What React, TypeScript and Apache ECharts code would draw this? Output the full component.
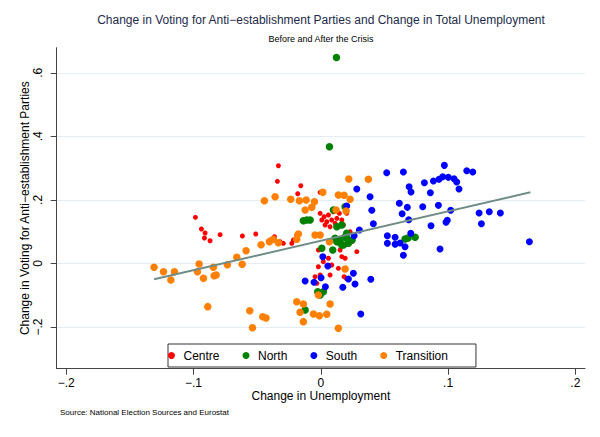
import React, { useEffect, useRef } from 'react';
import * as echarts from 'echarts';

const FONT = '"Liberation Sans", Arial, Helvetica, sans-serif';

const categories = ['Centre', 'North', 'South', 'Transition'];
const colors = ['#ff0000', '#008000', '#0000ff', '#ff8000'];
const markerSizes = [5, 7.5, 7, 7.5];

const xTicks = [-0.2, -0.1, 0, 0.1, 0.2];
const yTicks = [-0.2, 0, 0.2, 0.4, 0.6];

const centre: number[][] = [
  [-0.0333, 0.3075], [-0.0341, 0.2585], [-0.0157, 0.2447], [-0.0181, 0.2195], [-0.0005, 0.2239],
  [-0.0005, 0.1579], [0.0026, 0.1472], [0.006, 0.1525], [0.0008, 0.1368], [0.0047, 0.1314],
  [0.0086, 0.1368], [0.0034, 0.1211], [0.0126, 0.1421], [0.0165, 0.1368], [0.0178, 0.1211],
  [0.0099, 0.1629], [0.0146, 0.1579], [-0.0398, 0.0739], [-0.032, 0.0686], [-0.0294, 0.0635],
  [-0.0215, 0.0739], [-0.0189, 0.0896], [-0.0228, 0.0635], [0.0165, 0.0214], [0.0191, 0.0164],
  [0.0283, 0.0371], [0.0244, 0.0686], [-0.0019, 0.0425], [0.002, 0.0057], [0.006, 0.0164],
  [0.0086, -0.0047], [0.0138, -0.0151], [-0.0019, -0.0101], [-0.0045, -0.0415], [-0.0005, -0.0362],
  [0.0073, -0.0362], [-0.0031, -0.0623], [0.0183, -0.0415], [0.0199, -0.0465], [0.0152, 0.0425],
  [-0.0985, 0.1453], [-0.0938, 0.1085], [-0.0909, 0.0959], [-0.0914, 0.0802], [-0.087, 0.0717],
  [-0.0791, 0.0906], [-0.0616, 0.0865], [-0.0511, 0.0928], [-0.0364, 0.0843], [0.0113, 0.1264],
  [0.0073, 0.1157], [0.0204, 0.1579], [0.023, 0.1],
];

const north: number[][] = [
  [0.0123, 0.6484], [0.0068, 0.3673], [-0.011, 0.1368], [-0.0084, 0.1368], [-0.0137, 0.1346],
  [0.0099, 0.1682], [0.0126, 0.1157], [0.0165, 0.1211], [0.0191, 0.1786], [0.0112, 0.0792],
  [0.0152, 0.0739], [0.0191, 0.0843], [0.0217, 0.0635], [0.0165, 0.0582], [0.0126, 0.0686],
  [0.0204, 0.095], [0.0094, 0.0425], [0.0008, 0.0478], [0.0138, 0.0686], [0.0204, 0.0792],
  [0.0178, 0.0582], [0.0246, 0.0739], [-0.0024, -0.0887], [-0.0005, -0.0991], [0.002, -0.0887],
  [-0.0123, -0.1462], [0.0662, 0.077], [0.0741, 0.0824], [0.0686, 0.0802],
];

const south: number[][] = [
  [0.0518, 0.2855], [0.0649, 0.2877], [0.0971, 0.3088], [0.1147, 0.2918], [0.1194, 0.2877],
  [0.0814, 0.2541], [0.0885, 0.2594], [0.0929, 0.2648], [0.0958, 0.273], [0.1002, 0.2711],
  [0.1047, 0.2667], [0.1068, 0.2563], [0.1086, 0.2343], [0.0694, 0.2415], [0.0709, 0.2248],
  [0.0861, 0.2226], [0.0617, 0.1893], [0.068, 0.1767], [0.0639, 0.1566], [0.0691, 0.1377],
  [0.0801, 0.1786], [0.0924, 0.183], [0.1021, 0.1673], [0.0994, 0.1358], [0.0984, 0.1296],
  [0.0866, 0.1189], [0.1244, 0.1588], [0.1324, 0.1629], [0.1411, 0.1588], [0.1262, 0.1252],
  [0.1639, 0.0686], [0.0707, 0.095], [0.0523, 0.0874], [0.0584, 0.0824], [0.0523, 0.0635],
  [0.0584, 0.0604], [0.0623, 0.0645], [0.0662, 0.0528], [0.0649, 0.0258], [0.0937, 0.0456],
  [0.0401, 0.1673], [0.0413, 0.1252], [0.0387, 0.2101], [0.0393, -0.0497], [0.0283, 0.2343],
  [0.0204, 0.1808], [0.0303, 0.1053], [0.0262, 0.0874], [0.0016, 0.0214], [0.0055, -0.0079],
  [-0.0123, -0.055], [-0.0053, -0.0591], [0.0002, -0.0447], [0.0036, -0.073], [0.0173, -0.0748],
  [0.0217, -0.0487], [0.0256, -0.0308], [0.0269, -0.0645], [0.0314, -0.1588],
];

const transition: number[][] = [
  [-0.0359, 0.2101], [-0.0236, 0.2019], [-0.0168, 0.1975], [-0.0115, 0.1997], [-0.005, 0.1943],
  [0.0016, 0.2239], [-0.0123, 0.1682], [-0.0071, 0.1767], [0.0138, 0.2154], [0.0183, 0.2145],
  [0.023, 0.2019], [0.022, 0.2657], [0.0199, 0.1651], [0.012, 0.1682], [-0.0045, 0.0896],
  [-0.0005, 0.0896], [-0.0176, 0.0928], [-0.0189, 0.0761], [-0.0372, 0.0761], [0.0068, 0.0686],
  [0.0191, -0.0173], [-0.0019, -0.0991], [-0.0189, -0.1201], [-0.0137, -0.1274], [-0.0163, -0.1535],
  [-0.0137, -0.183], [-0.0058, -0.1588], [-0.0011, -0.1642], [0.0047, -0.1597], [0.0073, -0.1274],
  [0.0138, -0.2038], [0.0374, 0.2648], [-0.0443, 0.1975], [-0.131, -0.012], [-0.1236, -0.0258],
  [-0.115, -0.0258], [-0.1178, -0.0519], [-0.0956, -0.0016], [-0.0969, -0.0258], [-0.0922, -0.0465],
  [-0.0844, -0.012], [-0.0838, -0.0384], [-0.0822, -0.0362], [-0.0734, -0.0038], [-0.066, 0.0195],
  [-0.0618, -0.0025], [-0.0587, 0.0403], [-0.0469, 0.0591], [-0.0404, 0.0686], [-0.0333, 0.0654],
  [-0.0888, -0.1358], [-0.0558, -0.1484], [-0.0537, -0.2019], [-0.0456, -0.1673], [-0.043, -0.1714],
];

const fitLine: number[][] = [[-0.131, -0.0497], [0.1647, 0.2239]];

const seriesData = [centre, north, south, transition];

const fmt = (v: number) => {
  if (Math.abs(v) < 1e-9) return '0';
  const s = Math.abs(v).toFixed(1).replace(/^0/, '');
  return (v < 0 ? '\u2212' : '') + s;
};

export default function App() {
  const ref = useRef<HTMLDivElement>(null);
  useEffect(() => {
    if (!ref.current) return;
    const chart = echarts.init(ref.current, undefined, { renderer: 'svg' });
    const axisColor = '#444';
    chart.setOption({
      animation: false,
      backgroundColor: '#ffffff',
      textStyle: { fontFamily: FONT },
      title: [
        {
          text: 'Change in Voting for Anti\u2212establishment Parties and Change in Total Unemployment',
          left: 321,
          top: 14,
          textAlign: 'center',
          padding: 0,
          textStyle: { fontSize: 12, fontWeight: 'normal', color: '#1c2a4a', fontFamily: FONT },
        },
        {
          text: 'Before and After the Crisis',
          left: 321,
          top: 34.5,
          textAlign: 'center',
          padding: 0,
          textStyle: { fontSize: 9, fontWeight: 'normal', color: '#000', fontFamily: FONT },
        },
        {
          text: 'Source: National Election Sources and Eurostat',
          left: 60,
          top: 408,
          padding: 0,
          textStyle: { fontSize: 8, fontWeight: 'normal', color: '#000', fontFamily: FONT },
        },
      ],
      grid: {
        left: 56.7,
        top: 47.7,
        right: 15,
        bottom: 68.3,
        containLabel: false,
        outerBoundsMode: 'none',
      },
      legend: {
        data: categories,
        left: 168,
        top: 344,
        orient: 'horizontal',
        icon: 'circle',
        itemWidth: 14,
        itemHeight: 7,
        itemGap: 23,
        padding: [5.5, 28, 5.5, 0],
        borderColor: '#333',
        borderWidth: 1,
        backgroundColor: '#fff',
        selectedMode: false,
        textStyle: { fontSize: 12, color: '#000', fontFamily: FONT },
      },
      xAxis: {
        type: 'value',
        min: -0.2075,
        max: 0.2076,
        name: 'Change in Unemployment',
        nameLocation: 'middle',
        nameGap: 21,
        nameMoveOverlap: false,
        nameTextStyle: { fontSize: 12, color: '#000', fontFamily: FONT },
        axisLine: { show: true, onZero: false, lineStyle: { color: axisColor, width: 1 } },
        axisTick: { show: true, inside: false, length: 6, customValues: xTicks, lineStyle: { color: axisColor } },
        axisLabel: { customValues: xTicks, formatter: fmt, margin: 8, fontSize: 12, color: '#000', fontFamily: FONT },
        splitLine: { show: false },
      },
      yAxis: {
        type: 'value',
        min: -0.331,
        max: 0.679,
        name: 'Change in Voting for Anti\u2212establishment Parties',
        nameLocation: 'middle',
        nameGap: 26,
        nameMoveOverlap: false,
        nameTextStyle: { fontSize: 12, color: '#000', fontFamily: FONT },
        axisLine: { show: true, onZero: false, lineStyle: { color: axisColor, width: 1 } },
        axisTick: { show: true, inside: false, length: 6, customValues: yTicks, lineStyle: { color: axisColor } },
        axisLabel: { customValues: yTicks, formatter: fmt, rotate: 90, margin: 13, fontSize: 12, color: '#000', fontFamily: FONT },
        splitLine: { show: true, lineStyle: { color: '#e6edf2', width: 1 } },
      },
      series: [
        ...categories.map((name, i) => ({
          name,
          type: 'scatter',
          data: seriesData[i],
          symbol: 'circle',
          symbolSize: markerSizes[i],
          itemStyle: { color: colors[i], opacity: 1 },
          silent: true,
        })),
        {
          name: 'Fitted values',
          type: 'line',
          data: fitLine,
          symbol: 'none',
          lineStyle: { color: '#6f8c86', width: 2 },
          silent: true,
          z: 5,
        },
      ],
    });
    return () => chart.dispose();
  }, []);
  return (
    <div
      ref={ref}
      style={{ position: 'fixed', left: 0, top: 0, width: 600, height: 437 }}
    />
  );
}
